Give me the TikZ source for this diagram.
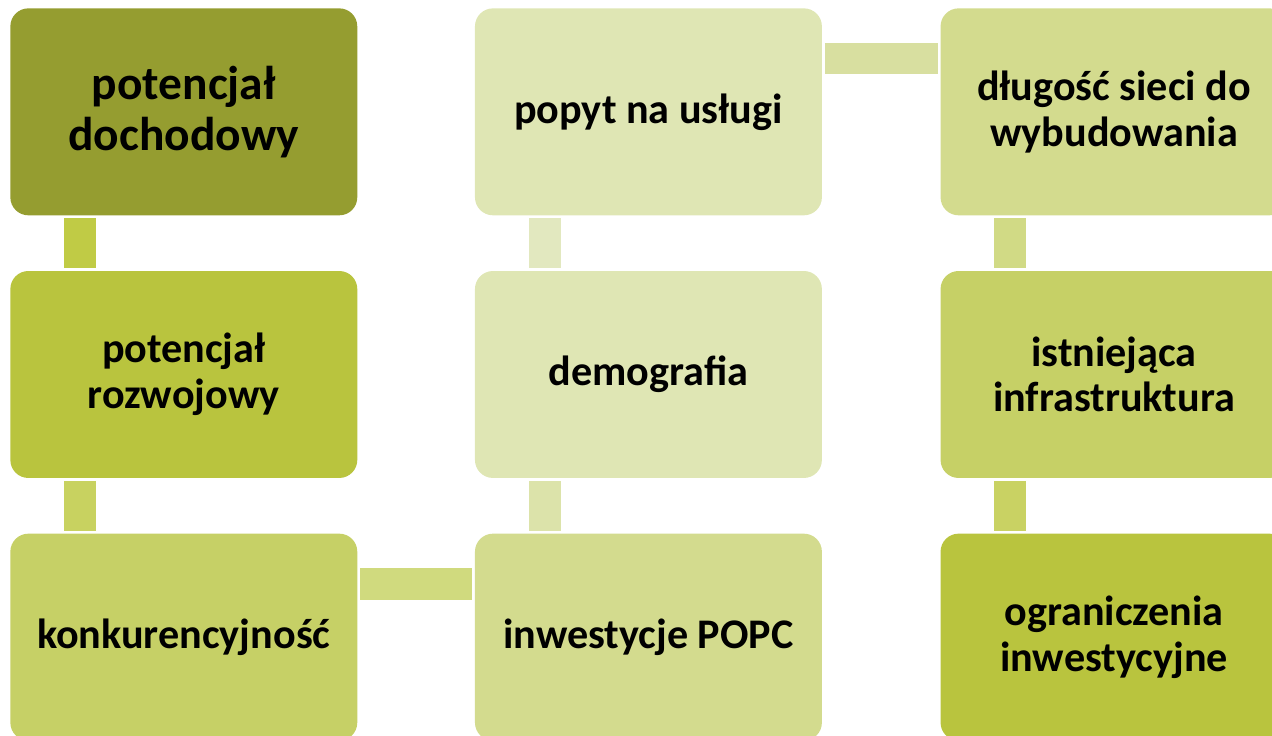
\documentclass[tikz,border=0pt]{standalone}
\usepackage{fontspec}
\setmainfont{Carlito}
\usepackage{tikz}
\usetikzlibrary{positioning}

\definecolor{olive1}{HTML}{959D30}
\definecolor{olive2}{HTML}{B9C43E}
\definecolor{olive3}{HTML}{C6D066}
\definecolor{olive4}{HTML}{D3DB8E}
\definecolor{olive5}{HTML}{DFE6B4}

\begin{document}
\begin{tikzpicture}
      [x=0.02cm,y=-0.02cm,
      box/.style={shape=rectangle,rounded corners=0.36cm,align=center,
        minimum width=6.94cm,minimum height=4.14cm,inner sep=0pt,
        font=\fontsize{24}{26}\selectfont\bfseries},
      bigbox/.style={box,font=\fontsize{27}{29}\selectfont\bfseries},
      bar/.style={line width=0.64cm,shorten <=0.05cm,shorten >=0.05cm}]
\useasboundingbox (0,0) rectangle (1272,735);

% first column
\node[bigbox,fill=olive1,anchor=north west] (dochodowy) at (10,8) {potencjał\\dochodowy};
\node[box,fill=olive2,below=1.1cm of dochodowy] (rozwojowy) {potencjał\\rozwojowy};
\node[box,fill=olive3,below=1.1cm of rozwojowy] (konkurencja) {konkurencyjność};

% second column
\node[box,fill=olive5,right=2.34cm of dochodowy] (popyt) {popyt na usługi};
\node[box,fill=olive5,below=1.1cm of popyt] (demografia) {demografia};
\node[box,fill=olive4,below=1.1cm of demografia] (popc) {inwestycje POPC};

% third column
\node[box,fill=olive4,right=2.36cm of popyt] (dlugosc) {długość sieci do\\wybudowania};
\node[box,fill=olive3,below=1.1cm of dlugosc] (infra) {istniejąca\\infrastruktura};
\node[box,fill=olive2,below=1.1cm of infra] (ograniczenia) {ograniczenia\\inwestycyjne};

% bars
\draw[bar,draw={rgb,255:red,192;green,203;blue,69}]
  ([xshift=1.4cm]dochodowy.south west) -- ([xshift=1.4cm]rozwojowy.north west);
\draw[bar,draw={rgb,255:red,200;green,210;blue,96}]
  ([xshift=1.4cm]rozwojowy.south west) -- ([xshift=1.4cm]konkurencja.north west);
\draw[bar,draw={rgb,255:red,208;green,218;blue,126}]
  ([yshift=-1.02cm]konkurencja.north east) -- ([yshift=-1.02cm]popc.north west);
\draw[bar,draw={rgb,255:red,220;green,227;blue,170}]
  ([xshift=1.4cm]popc.north west) -- ([xshift=1.4cm]demografia.south west);
\draw[bar,draw={rgb,255:red,226;green,232;blue,191}]
  ([xshift=1.4cm]demografia.north west) -- ([xshift=1.4cm]popyt.south west);
\draw[bar,draw={rgb,255:red,216;green,223;blue,160}]
  ([yshift=-1.01cm]popyt.north east) -- ([yshift=-1.01cm]dlugosc.north west);
\draw[bar,draw={rgb,255:red,209;green,218;blue,133}]
  ([xshift=1.4cm]dlugosc.south west) -- ([xshift=1.4cm]infra.north west);
\draw[bar,draw={rgb,255:red,201;green,210;blue,99}]
  ([xshift=1.4cm]infra.south west) -- ([xshift=1.4cm]ograniczenia.north west);
\end{tikzpicture}
\end{document}
